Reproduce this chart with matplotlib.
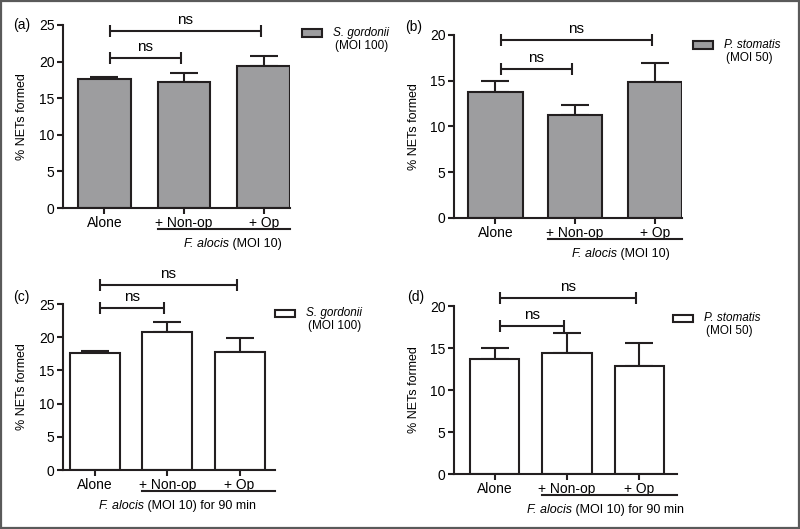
import matplotlib
matplotlib.use("Agg")
import matplotlib.pyplot as plt
import matplotlib.transforms as mtransforms
from matplotlib.patches import Rectangle
from matplotlib.offsetbox import TextArea, HPacker, AnnotationBbox

plt.rcParams['font.family'] = ['Liberation Sans', 'DejaVu Sans']

# data
categories = ["Alone", "+ Non-op", "+ Op"]

a_means = [17.6, 17.2, 19.4]
a_err = [0.3, 1.2, 1.4]
b_means = [13.8, 11.3, 14.9]
b_err = [1.15, 1.05, 2.05]
c_means = [17.6, 20.8, 17.7]
c_err = [0.3, 1.5, 2.2]
d_means = [13.7, 14.4, 12.9]
d_err = [1.25, 2.35, 2.65]

species = ["S. gordonii", "P. stomatis", "S. gordonii", "P. stomatis"]
moi = ["(MOI 100)", "(MOI 50)", "(MOI 100)", "(MOI 50)"]
panel_labels = ["(a)", "(b)", "(c)", "(d)"]
sub_rest = [" (MOI 10)", " (MOI 10)", " (MOI 10) for 90 min", " (MOI 10) for 90 min"]
# heights of the "ns" brackets (short, long)
ns_heights = [(20.5, 24.2), (16.3, 19.45), (24.4, 27.9), (17.6, 20.95)]

W, H = 800, 529
fig = plt.figure(figsize=(8, 5.29), dpi=100)

# pixel boxes: left, top, right, bottom
boxes = [(63, 25, 290, 208), (454, 35, 682, 218), (63, 304, 275, 470), (454, 306, 677, 474)]
xlims = [(-0.52, 2.33), (-0.52, 2.34), (-0.44, 2.49), (-0.56, 2.52)]
widths = [0.66, 0.68, 0.69, 0.68]
ymaxes = [25, 20, 25, 20]
colors = ['#9d9d9f', '#9d9d9f', 'white', 'white']
sub_centers = [0.75, 0.73, 0.54, 0.68]
leg_pos = [(302, 33), (693, 45), (275, 313), (673, 318)]
ylabel_x = [28, 420, 28, 420]
plabel_pos = [(13, 25), (405, 27), (13, 297), (407, 297)]

ink = '#231f20'
all_means = [a_means, b_means, c_means, d_means]
all_err = [a_err, b_err, c_err, d_err]

for i in range(4):
    l, t, r, b = boxes[i]
    ax = fig.add_axes([l / W, 1 - b / H, (r - l) / W, (b - t) / H])
    x = list(range(len(categories)))
    w = widths[i]
    ax.errorbar(x, all_means[i], yerr=[[0] * 3, all_err[i]], fmt='none', ecolor=ink,
                elinewidth=1.5, capsize=10, capthick=1.5, zorder=1)
    ax.bar(x, all_means[i], width=w, color=colors[i], edgecolor=ink, linewidth=1.5, zorder=2)

    ax.set_xlim(*xlims[i])
    ax.set_ylim(0, ymaxes[i])
    ax.set_yticks(range(0, ymaxes[i] + 1, 5))
    ax.set_xticks(x)
    ax.set_xticklabels(categories, fontsize=10)
    ax.tick_params(axis='y', labelsize=10)
    ax.tick_params(width=1.5, length=4, color=ink, pad=2)
    for s in ['top', 'right']:
        ax.spines[s].set_visible(False)
    for s in ['left', 'bottom']:
        ax.spines[s].set_linewidth(1.5)
        ax.spines[s].set_color(ink)
    ax.set_ylabel("% NETs formed", fontsize=9)
    ax.yaxis.set_label_coords((ylabel_x[i] - l) / (r - l), 0.5)

    # ns brackets
    for (x0, x1), yb in zip([(0, 1), (0, 2)], ns_heights[i]):
        xa, xb = x0 + 0.07, x1 - 0.04
        ax.errorbar((xa + xb) / 2, yb, xerr=(xb - xa) / 2, fmt='none', ecolor=ink,
                    elinewidth=1.5, capsize=4, capthick=1.5, clip_on=False)
        ax.annotate("ns", xy=((xa + xb) / 2, yb), xytext=(0, 3), textcoords='offset points',
                    ha='center', va='bottom', fontsize=11, annotation_clip=False)

    # F. alocis group line under the last two bars
    trans = mtransforms.blended_transform_factory(ax.transData, ax.transAxes)
    ph = b - t
    ax.plot([1 - w / 2, xlims[i][1]], [-21 / ph, -21 / ph], transform=trans,
            color=ink, lw=1.5, clip_on=False)
    box = HPacker(children=[TextArea("F. alocis", textprops=dict(fontsize=9, style='italic')),
                            TextArea(sub_rest[i], textprops=dict(fontsize=9))],
                  align='baseline', pad=0, sep=0)
    ab = AnnotationBbox(box, (sub_centers[i], -36 / ph), xycoords=ax.transAxes,
                        frameon=False, box_alignment=(0.5, 0.5), annotation_clip=False)
    ax.add_artist(ab)

    # legend drawn by hand: patch, species name, MOI
    lx, ly = leg_pos[i]
    fig.patches.append(Rectangle((lx / W, 1 - (ly + 3.5) / H), 20 / W, 7 / H,
                                 transform=fig.transFigure, facecolor=colors[i],
                                 edgecolor=ink, linewidth=1.5))
    fig.text((lx + 31) / W, 1 - ly / H, species[i], style='italic', fontsize=8.5,
             ha='left', va='center')
    fig.text((lx + 33) / W, 1 - (ly + 13) / H, moi[i], fontsize=8.5, ha='left', va='center')

    px, py = plabel_pos[i]
    fig.text(px / W, 1 - py / H, panel_labels[i], ha='left', va='center', fontsize=10)

fig.patches.append(Rectangle((0.001, 0.001), 0.998, 0.998, transform=fig.transFigure,
                             fill=False, edgecolor='#5a5a5a', linewidth=1.6))

fig.savefig("out.png", dpi=100)
